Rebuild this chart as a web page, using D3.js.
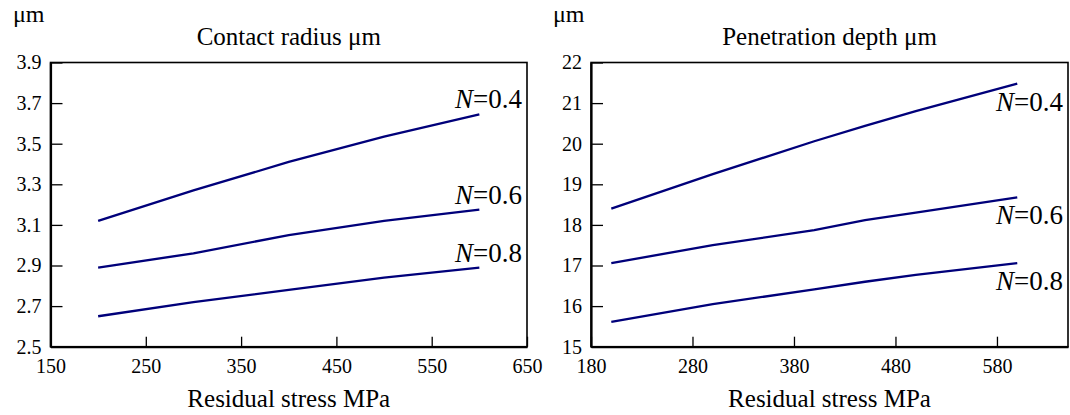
<!DOCTYPE html>
<html>
<head>
<meta charset="utf-8">
<script src="https://cdn.jsdelivr.net/npm/d3@7"></script>
<style>
  body { margin: 0; background: #fff; }
</style>
</head>
<body>
<svg></svg>
<script>
// residual stress (MPa) on x, one array per N value
let radiusStress = [200, 300, 400, 500, 600]
let radiusN04 = [3.12, 3.27, 3.41, 3.535, 3.645]
let radiusN06 = [2.89, 2.96, 3.05, 3.12, 3.175]
let radiusN08 = [2.65, 2.72, 2.78, 2.84, 2.89]

let depthStress = [200, 300, 400, 450, 500, 600]
let depthN04 = [18.40, 19.25, 20.06, 20.44, 20.80, 21.48]
let depthN06 = [17.06, 17.50, 17.87, 18.12, 18.30, 18.68]
let depthN08 = [15.61, 16.05, 16.41, 16.60, 16.77, 17.06]

let seriesNames = ["0.4", "0.6", "0.8"]

let radiusXTicks = [150, 250, 350, 450, 550, 650]
let radiusYTicks = [2.5, 2.7, 2.9, 3.1, 3.3, 3.5, 3.7, 3.9]
let depthXTicks = [180, 280, 380, 480, 580]
let depthYTicks = [15, 16, 17, 18, 19, 20, 21, 22]

let width = 1070
let height = 415
let plotTop = 62.5
let plotBottom = 346.7
let lineColor = "#00007a"
let serif = "'Liberation Serif', 'Times New Roman', serif"

let svg = d3.select("svg")
    .attr("width", width)
    .attr("height", height)

let addText = (g, x, y, size, str) => {
    return g.append("text")
        .attr("x", x)
        .attr("y", y)
        .style("font-family", serif)
        .style("font-size", size + "px")
        .style("fill", "#000")
        .text(str)
}

let drawPanel = (opts) => {
    let xScale = d3.scaleLinear()
        .domain([opts.xTicks[0], 650])
        .range([opts.left, opts.right])

    let yScale = d3.scaleLinear()
        .domain([opts.yTicks[0], opts.yTicks[opts.yTicks.length - 1]])
        .range([plotBottom, plotTop])

    let g = svg.append("g")

    // frame
    g.append("rect")
        .attr("x", opts.left)
        .attr("y", plotTop)
        .attr("width", opts.right - opts.left)
        .attr("height", plotBottom - plotTop)
        .attr("fill", "none")
        .attr("stroke", "#000")
        .attr("stroke-width", 1.6)

    let xAxis = d3.axisBottom(xScale)
        .tickValues(opts.xTicks)
        .tickFormat(d3.format("d"))
        .tickSizeInner(-10)
        .tickSizeOuter(0)
        .tickPadding(9)

    let yAxis = d3.axisLeft(yScale)
        .tickValues(opts.yTicks)
        .tickFormat(opts.yFormat)
        .tickSizeInner(-12)
        .tickSizeOuter(0)
        .tickPadding(9)

    let gx = g.append("g")
        .attr("transform", "translate(0, " + plotBottom + ")")
        .call(xAxis)
    let gy = g.append("g")
        .attr("transform", "translate(" + opts.left + ", 0)")
        .call(yAxis)

    g.selectAll("g").attr("font-family", null)
    g.selectAll(".domain").attr("stroke", "#000").attr("stroke-width", 2.2)
    g.selectAll(".tick line").attr("stroke", "#000").attr("stroke-width", 1.3)
    g.selectAll(".tick text")
        .style("font-family", serif)
        .style("font-size", "20px")
        .style("fill", "#000")
    gx.selectAll(".tick text").attr("dy", "0.85em")

    let line = d3.line()
        .x((d) => xScale(d[0]))
        .y((d) => yScale(d[1]))

    opts.series.forEach((values, i) => {
        let points = opts.stress.map((s, j) => [s, values[j]])
        g.append("path")
            .datum(points)
            .attr("d", line)
            .attr("fill", "none")
            .attr("stroke", lineColor)
            .attr("stroke-width", 2.3)

        let label = addText(g, opts.right - 5, yScale(values[values.length - 1]) + opts.labelDy, 27, null)
            .attr("text-anchor", "end")
        label.append("tspan").style("font-style", "italic").style("font-family", serif).text("N")
        label.append("tspan").style("font-family", serif).text("=" + seriesNames[i])
    })

    // titles
    addText(g, (opts.left + opts.right) / 2, 45, 25, opts.title)
        .attr("text-anchor", "middle")

    addText(g, (opts.left + opts.right) / 2, 407, 25, "Residual stress MPa")
        .attr("text-anchor", "middle")

    addText(g, opts.unitX, 22, 24, "μm")
}

drawPanel({
    left: 50.5, right: 527,
    xTicks: radiusXTicks, yTicks: radiusYTicks,
    yFormat: d3.format(".1f"),
    stress: radiusStress,
    series: [radiusN04, radiusN06, radiusN08],
    labelDy: -6,
    title: "Contact radius μm",
    unitX: 13
})

drawPanel({
    left: 591, right: 1068,
    xTicks: depthXTicks, yTicks: depthYTicks,
    yFormat: d3.format("d"),
    stress: depthStress,
    series: [depthN04, depthN06, depthN08],
    labelDy: 27,
    title: "Penetration depth μm",
    unitX: 553
})
</script>
</body>
</html>
